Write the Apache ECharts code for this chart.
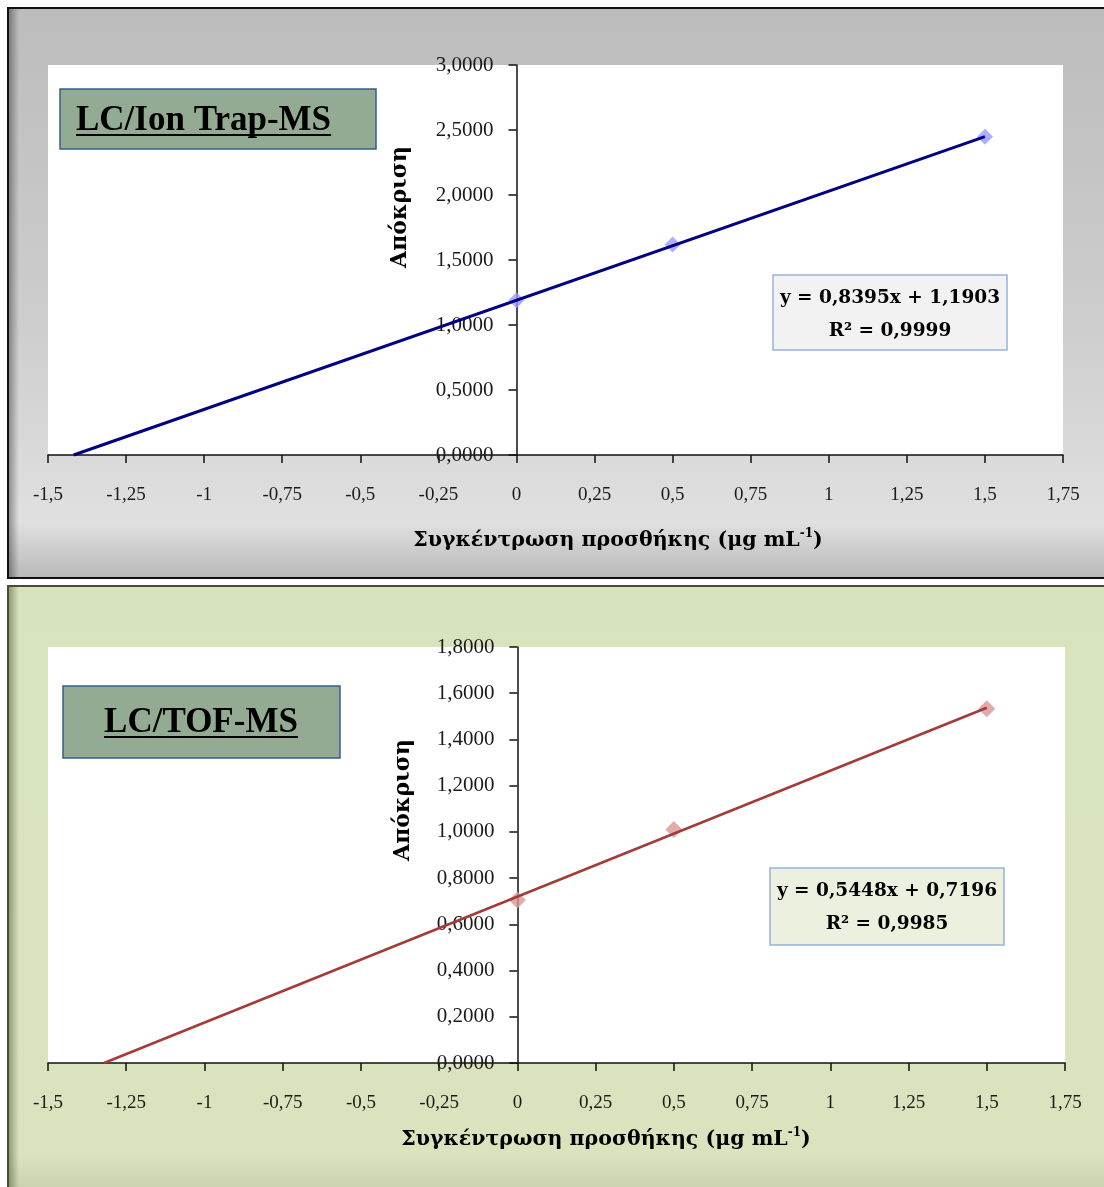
<!DOCTYPE html>
<html>
<head>
<meta charset="utf-8">
<script src="https://cdn.jsdelivr.net/npm/echarts@6/dist/echarts.min.js"></script>
<style>
html, body { margin: 0; padding: 0; background: #fff; }
#main { width: 1104px; height: 1187px; }
</style>
</head>
<body>
<div id="main"></div>
<script>
// standard-addition data
var addedConc = [0, 0.5, 1.5];
var ionTrapResp = [1.19, 1.62, 2.449];
var tofResp = [0.705, 1.01, 1.533];

// trendline end points (x-intercept and last standard)
var ionTrapFitX = [-1.418, 1.5];
var ionTrapFitY = [0, 2.449];
var tofFitX = [-1.321, 1.5];
var tofFitY = [0, 1.537];

var panelTitles = ['LC/Ion Trap-MS', 'LC/TOF-MS'];
var ionTrapEq = ['y = 0,8395x + 1,1903', 'R² = 0,9999'];
var tofEq = ['y = 0,5448x + 0,7196', 'R² = 0,9985'];
var yTitle = 'Απόκριση';
var xTitle = 'Συγκέντρωση προσθήκης (μg mL';

var FONT = '"Liberation Serif", "DejaVu Serif", serif';
var WIDE = '"DejaVu Serif", "Liberation Serif", serif';

function pairs(xs, ys) {
	var out = [];
	for (var i = 0; i < xs.length; i++) {
		out.push([xs[i], ys[i]]);
	}
	return out;
}

function comma(v, d) {
	return (d == null ? String(v) : v.toFixed(d)).replace('.', ',');
}

function textWidth(txt, font) {
	var c = document.createElement('canvas').getContext('2d');
	c.font = font;
	return c.measureText(txt).width;
}

function xAxisOpt(gi) {
	return {
		type : 'value',
		gridIndex : gi,
		min : -1.5,
		max : 1.75,
		interval : 0.25,
		axisLine : { onZero : false, lineStyle : { color : '#111', width : 1.5 } },
		axisTick : { inside : false, length : 8, lineStyle : { color : '#111', width : 1.5 } },
		axisLabel : {
			margin : 31,
			color : '#1a1a1a',
			fontFamily : FONT,
			fontSize : 19,
			formatter : function (v) { return comma(v); }
		},
		splitLine : { show : false }
	};
}

// y axis sits on x = 0, so push it inside the grid with a negative offset
function yAxisOpt(gi, max, step, shift) {
	return {
		type : 'value',
		gridIndex : gi,
		position : 'left',
		offset : -shift,
		min : 0,
		max : max,
		interval : step,
		axisLine : { onZero : false, lineStyle : { color : '#111', width : 1.5 } },
		axisTick : { inside : false, length : 8, lineStyle : { color : '#111', width : 1.5 } },
		axisLabel : {
			margin : 23,
			color : '#1a1a1a',
			fontFamily : FONT,
			fontSize : 21,
			formatter : function (v) { return comma(v, 4); }
		},
		splitLine : { show : false }
	};
}

function titleBox(x, y, w, h, txt, tx, ty, align) {
	var font = 'bold 35px ' + FONT;
	var tw = textWidth(txt, font);
	var left = align === 'center' ? tx - tw / 2 : tx;
	return [{
		type : 'rect', z : 50,
		shape : { x : x, y : y, width : w, height : h },
		style : { fill : '#93ab93', stroke : '#385d8a', lineWidth : 1.5 }
	}, {
		type : 'text', z : 51,
		x : tx, y : ty,
		style : {
			text : txt, font : font, fill : '#000',
			textAlign : align, textVerticalAlign : 'middle'
		}
	}, {
		type : 'rect', z : 51,
		shape : { x : left, y : ty + 13, width : tw, height : 2 },
		style : { fill : '#000' }
	}];
}

function eqBox(x, y, w, h, lines, fill) {
	return [{
		type : 'rect', z : 50,
		shape : { x : x, y : y, width : w, height : h },
		style : { fill : fill, stroke : '#95b3d7', lineWidth : 1.5 }
	}, {
		type : 'text', z : 51,
		x : x + w / 2, y : y + 23,
		style : { text : lines[0], font : 'bold 18.5px ' + WIDE, fill : '#000', textAlign : 'center', textVerticalAlign : 'middle' }
	}, {
		type : 'text', z : 51,
		x : x + w / 2, y : y + 56,
		style : { text : lines[1], font : 'bold 18.5px ' + WIDE, fill : '#000', textAlign : 'center', textVerticalAlign : 'middle' }
	}];
}

function yName(x, y) {
	return {
		type : 'text', z : 51,
		x : x, y : y, rotation : Math.PI / 2,
		style : { text : yTitle, font : 'bold 22px ' + WIDE, fill : '#000', textAlign : 'center', textVerticalAlign : 'middle' }
	};
}

function xName(x, y) {
	return {
		type : 'text', z : 51,
		x : x, y : y,
		style : {
			text : '{b|' + xTitle + '}{s|-1}{b|)}',
			fill : '#000',
			textAlign : 'center', textVerticalAlign : 'middle',
			rich : {
				b : { font : 'bold 20.5px ' + WIDE, lineHeight : 26, fill : '#000' },
				s : { font : 'bold 12px ' + WIDE, lineHeight : 14, verticalAlign : 'top', fill : '#000' }
			}
		}
	};
}

var chart = echarts.init(document.getElementById('main'), null, { renderer : 'canvas' });

var elements = [{
	type : 'rect', z : -10,
	shape : { x : 8, y : 8, width : 1098, height : 570 },
	style : {
		fill : new echarts.graphic.LinearGradient(0, 0, 0, 1, [
			{ offset : 0, color : '#bcbcbc' },
			{ offset : 0.55, color : '#cdcdcd' },
			{ offset : 0.9, color : '#e0e0e0' },
			{ offset : 1, color : '#b8b8b8' }
		]),
		stroke : '#111', lineWidth : 2
	}
}, {
	type : 'rect', z : -9,
	shape : { x : 9, y : 9, width : 10, height : 568 },
	style : {
		fill : new echarts.graphic.LinearGradient(0, 0, 1, 0, [
			{ offset : 0, color : 'rgba(0,0,0,0.35)' },
			{ offset : 1, color : 'rgba(0,0,0,0)' }
		])
	}
}, {
	type : 'rect', z : -10,
	shape : { x : 8, y : 586, width : 1098, height : 610 },
	style : {
		fill : new echarts.graphic.LinearGradient(0, 0, 0, 1, [
			{ offset : 0, color : '#d7e3bc' },
			{ offset : 0.93, color : '#d9e4be' },
			{ offset : 1, color : '#c4cfa9' }
		]),
		stroke : '#4a4a3a', lineWidth : 2
	}
}, {
	type : 'rect', z : -9,
	shape : { x : 9, y : 587, width : 10, height : 600 },
	style : {
		fill : new echarts.graphic.LinearGradient(0, 0, 1, 0, [
			{ offset : 0, color : 'rgba(40,50,20,0.4)' },
			{ offset : 1, color : 'rgba(40,50,20,0)' }
		])
	}
}];

elements = elements
	.concat(titleBox(60, 89, 316, 60, panelTitles[0], 76, 121, 'left'))
	.concat(eqBox(773, 275, 234, 75, ionTrapEq, '#f2f2f2'))
	.concat([yName(400, 207), xName(618, 541)])
	.concat(titleBox(63, 686, 277, 72, panelTitles[1], 201, 723, 'center'))
	.concat(eqBox(770, 868, 234, 77, tofEq, '#ebf1de'))
	.concat([yName(403, 800), xName(606, 1140)]);

var option = {
	animation : false,
	graphic : { elements : elements },
	grid : [
		{ left : 48, top : 65, width : 1015, height : 390, show : true, backgroundColor : '#fff', borderWidth : 0, containLabel : false, outerBoundsMode : 'none' },
		{ left : 48, top : 647, width : 1017, height : 416, show : true, backgroundColor : '#fff', borderWidth : 0, containLabel : false, outerBoundsMode : 'none' }
	],
	xAxis : [ xAxisOpt(0), xAxisOpt(1) ],
	yAxis : [ yAxisOpt(0, 3, 0.5, 1.5 * 1015 / 3.25), yAxisOpt(1, 1.8, 0.2, 1.5 * 1017 / 3.25) ],
	series : [ {
		name : 'Ion Trap',
		type : 'scatter',
		xAxisIndex : 0, yAxisIndex : 0,
		symbol : 'diamond',
		symbolSize : 16,
		itemStyle : { color : '#9a9aff' },
		data : pairs(addedConc, ionTrapResp)
	}, {
		name : 'Ion Trap fit',
		type : 'line',
		xAxisIndex : 0, yAxisIndex : 0,
		showSymbol : false,
		z : 5,
		lineStyle : { color : '#000080', width : 3 },
		data : pairs(ionTrapFitX, ionTrapFitY)
	}, {
		name : 'TOF',
		type : 'scatter',
		xAxisIndex : 1, yAxisIndex : 1,
		symbol : 'diamond',
		symbolSize : 17,
		itemStyle : { color : '#d99694' },
		data : pairs(addedConc, tofResp)
	}, {
		name : 'TOF fit',
		type : 'line',
		xAxisIndex : 1, yAxisIndex : 1,
		showSymbol : false,
		z : 5,
		lineStyle : { color : '#a33b37', width : 2.5 },
		data : pairs(tofFitX, tofFitY)
	} ]
};

chart.setOption(option, true);
</script>
</body>
</html>
